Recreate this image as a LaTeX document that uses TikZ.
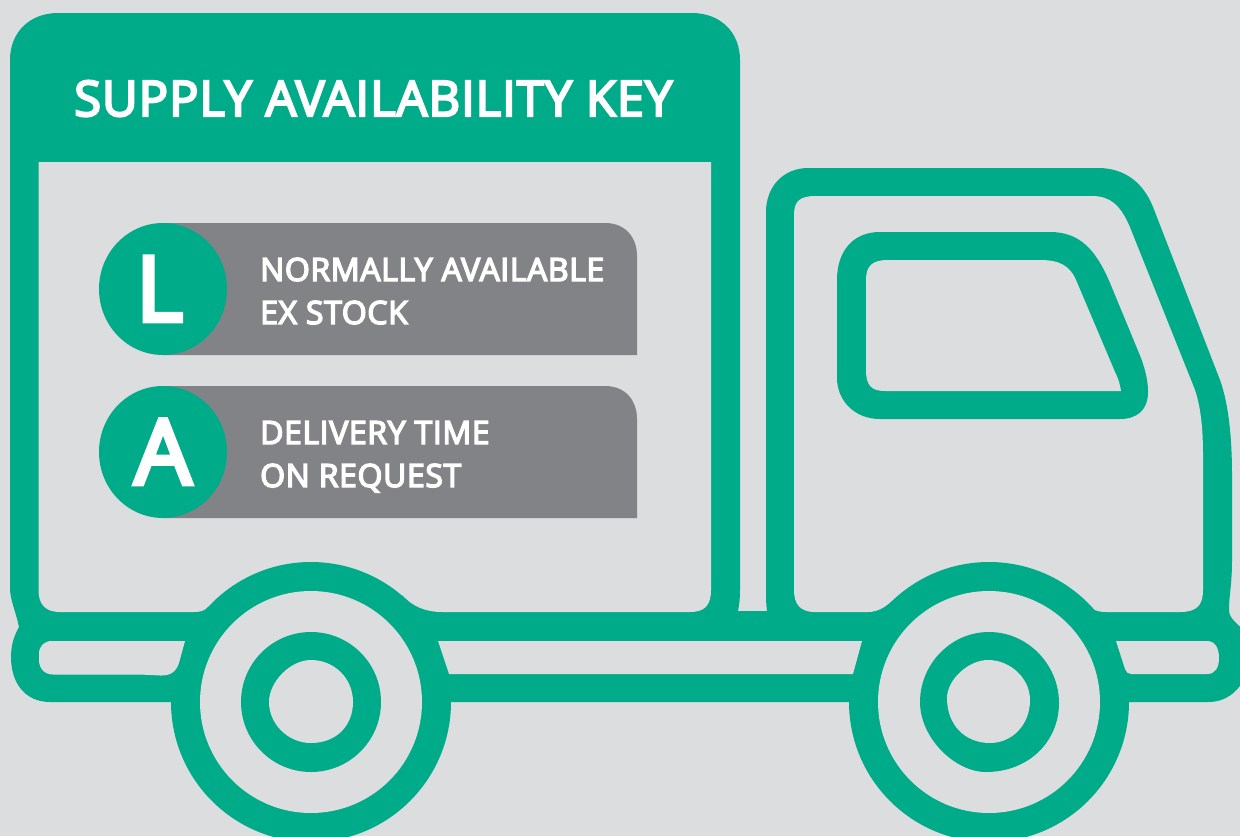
\documentclass[tikz,border=0pt]{standalone}
\usepackage{fontspec}
\usetikzlibrary{shapes.geometric}
\setmainfont[BoldFont={Open Sans},BoldFeatures={FakeBold=4.5},LetterSpace=1.9]{Open Sans}
\newfontfamily\badgefont[BoldFont={Open Sans},BoldFeatures={FakeBold=5}]{Open Sans}
\definecolor{truck}{HTML}{00AB89}
\definecolor{paper}{HTML}{DCDDDF}
\definecolor{pill}{HTML}{828386}
\tikzset{
  body/.style={fill=truck,draw=none},
  hole/.style={fill=paper,draw=none},
  pillbar/.style={fill=pill,draw=none},
  badge/.style={shape=ellipse,fill=truck,draw=none,text=white,inner sep=0pt,minimum width=128pt,minimum height=132pt},
  badgetext/.style={text=white,font=\badgefont\bfseries\fontsize{90}{90}\selectfont,inner sep=0pt,anchor=base},
  keytext/.style={text=white,font=\bfseries\fontsize{32}{43}\selectfont,inner sep=0pt,anchor=base west,align=left},
  titletext/.style={text=white,font=\bfseries\fontsize{49}{49}\selectfont,inner sep=0pt,anchor=base west}
}
\begin{document}
\begin{tikzpicture}[x=1pt,y=-1pt]
\path[use as bounding box,fill=paper] (0,0) rectangle (1240,836);
\clip (0,0) rectangle (1240,836);
% silhouette
\path[body] (10,60) .. controls (10,32) and (30,13) .. (58,13) -- (692,13)
  .. controls (720,13) and (740,32) .. (740,60) -- (740,590)
  .. controls (740,600) and (739,606) .. (738,611) -- (767,611)
  .. controls (766,604) and (766,598) .. (766,590) -- (766,212)
  .. controls (766,186) and (784,168) .. (808,168) -- (1098,168)
  .. controls (1124,168) and (1143,182) .. (1153,207) -- (1220,380)
  .. controls (1229,405) and (1232,440) .. (1232,475) -- (1232,560)
  .. controls (1232,585) and (1229,595) .. (1229,610)
  .. controls (1229,618) and (1236,623) .. (1246,632) -- (1246,676)
  .. controls (1238,692) and (1226,702) .. (1208,702) -- (50,702)
  .. controls (26,702) and (11,684) .. (11,657)
  .. controls (11,645) and (14,636) .. (19,627)
  .. controls (16,612) and (10,600) .. (10,588) -- cycle;
% box interior
\path[hole] (38.5,162) -- (711,162) -- (711,590)
  .. controls (711,606) and (704,612) .. (690,612) -- (442,612)
  .. controls (425,612) and (412,606) .. (402,595) -- (311,650) -- (208,607)
  .. controls (204,611) and (200,612) .. (194,612) -- (60,612)
  .. controls (45,612) and (38.5,604) .. (38.5,590) -- cycle;
% cab interior
\path[hole] (794,215) .. controls (794,201) and (800,196) .. (816,196) -- (1092,196)
  .. controls (1110,196) and (1120,205) .. (1129,225) -- (1195,390)
  .. controls (1201,408) and (1203,430) .. (1203,455) -- (1203,590)
  .. controls (1203,606) and (1196,612) .. (1180,612) -- (1106,612)
  .. controls (1098,612) and (1092,610) .. (1086,604) -- (989,650) -- (892,601)
  .. controls (885,607) and (878,612) .. (868,612) -- (815,612)
  .. controls (800,612) and (794,604) .. (794,590) -- cycle;
% window
\path[body] (837,280) .. controls (837,250) and (854,232) .. (880,232) -- (1050,232)
  .. controls (1080,232) and (1096,250) .. (1110,283) -- (1141,358)
  .. controls (1146,372) and (1148,382) .. (1148,392)
  .. controls (1148,410) and (1137,419) .. (1120,419) -- (880,419)
  .. controls (854,419) and (837,400) .. (837,378) -- cycle;
\path[hole] (866,280) .. controls (866,266) and (872,260) .. (888,260) -- (1040,260)
  .. controls (1060,260) and (1070,266) .. (1076,280) -- (1115,372)
  .. controls (1119,380) and (1120,385) .. (1121,391) -- (885,391)
  .. controls (871,391) and (866,385) .. (866,370) -- cycle;
% wheel arches
\path[body] (311,702) circle[radius=140];
\path[body] (989,702) circle[radius=140];
% chassis openings
\path[hole] (52,641) -- (185,641) -- (179,663)
  .. controls (176,672) and (170,676) .. (160,675.5) -- (140,674.5) -- (53,674.5)
  .. controls (44,674.5) and (39,668) .. (39,660) -- (39,654)
  .. controls (39,646) and (44,641) .. (52,641) -- cycle;
\path[hole] (438,641) -- (862,641) -- (853,674) -- (449,674) -- cycle;
\path[hole] (1116,641) -- (1125,669)
  .. controls (1126,672) and (1128,674) .. (1131,674) -- (1207,674)
  .. controls (1215,674) and (1219,668) .. (1219,658)
  .. controls (1219,648) and (1215,641) .. (1207,641) -- cycle;
% wheels
\path[hole] (311,702) circle[radius=111];
\path[body] (311,702) circle[radius=70];
\path[hole] (311,660) .. controls (334,660) and (353,678) .. (353,702)
  .. controls (353,726) and (336,743) .. (311,743)
  .. controls (288,743) and (269,724) .. (269,702)
  .. controls (269,682) and (290,660) .. (311,660) -- cycle;
\path[hole] (989,702) circle[radius=111];
\path[body] (920,702) .. controls (920,665) and (950,632) .. (989,632)
  .. controls (1028,632) and (1059,665) .. (1059,703)
  .. controls (1059,742) and (1028,772) .. (986,772)
  .. controls (955,772) and (920,738) .. (920,702) -- cycle;
\path[hole] (988,660) .. controls (1010,660) and (1030,678) .. (1030,700)
  .. controls (1030,725) and (1012,743) .. (990,743)
  .. controls (965,743) and (947,725) .. (947,698)
  .. controls (947,680) and (968,660) .. (988,660) -- cycle;
% key bars
\path[pillbar] (163,223) -- (605,223) .. controls (626,223) and (637,238) .. (637,256) -- (637,355) -- (163,355) -- cycle;
\path[pillbar] (163,386) -- (605,386) .. controls (626,386) and (637,401) .. (637,419) -- (637,518) -- (163,518) -- cycle;
\node[badge] (badgeL) at (163,289) {};
\node[badge] (badgeA) at (163,452) {};
\node[badgetext] (letterL) at (159.5,321) {L};
\node[badgetext] (letterA) at (163,484) {A};
\node[titletext] (title) at (74,116) {SUPPLY AVAILABILITY KEY};
\node[keytext] (lineL) at (260,324) {NORMALLY AVAILABLE\\EX STOCK};
\node[keytext] (lineA) at (260,487) {DELIVERY TIME\\ON REQUEST};
\end{tikzpicture}
\end{document}
